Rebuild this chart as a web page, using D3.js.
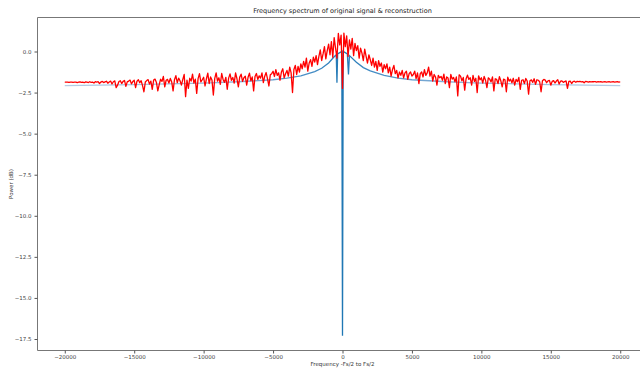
<!DOCTYPE html>
<html>
<head>
<meta charset="utf-8">
<script src="https://cdn.jsdelivr.net/npm/d3@7"></script>
<style>
  body { margin: 0; background: #fff; }
  text { font-family: "DejaVu Sans", sans-serif; }
</style>
</head>
<body>
<svg id="chart" width="640" height="368"></svg>
<script>
// reconstruction spectrum, one value every 100 Hz
const redStep = 100;
const redLeft = [
  -1.86,-1.87,-1.86,-1.88,-1.87,-1.86,-1.88,-1.87,-1.86,-1.89,
  -1.87,-1.85,-1.88,-1.86,-1.90,-1.85,-1.87,-1.89,-1.84,-1.88,
  -1.86,-1.92,-1.84,-1.87,-1.83,-1.95,-1.86,-1.82,-1.89,-1.85,
  -1.81,-1.93,-1.86,-1.80,-1.98,-1.84,-1.79,-2.20,-2.05,-1.83,
  -1.78,-1.95,-1.82,-1.76,-2.12,-1.85,-1.80,-1.74,-1.97,-1.83,
  -1.75,-2.20,-1.81,-1.72,-1.90,-1.78,-2.08,-2.45,-1.86,-1.77,
  -1.71,-1.98,-1.80,-2.30,-1.74,-1.68,-1.88,-2.40,-2.02,-1.69,
  -1.82,-1.52,-2.15,-1.75,-1.70,-1.92,-1.64,-1.85,-2.40,-1.72,
  -1.47,-1.90,-1.62,-1.78,-2.05,-1.70,-1.40,-2.75,-1.74,-2.25,
  -1.63,-1.80,-1.38,-1.92,-1.68,-2.55,-1.65,-1.35,-1.85,-1.72,
  -1.57,-2.10,-1.66,-1.32,-1.95,-1.55,-1.74,-2.65,-1.64,-1.30,
  -1.80,-1.60,-2.00,-1.34,-1.70,-1.88,-1.57,-2.30,-1.62,-1.36,
  -1.75,-1.58,-1.93,-1.30,-1.66,-2.15,-1.56,-1.38,-1.82,-1.60,
  -1.50,-2.05,-1.57,-1.32,-1.78,-1.55,-2.40,-1.52,-1.34,-1.70,
  -1.48,-1.62,-1.30,-1.90,-1.50,-1.28,-1.66,-2.10,-1.42,-1.35,
  -1.20,-1.52,-1.10,-1.45,-1.30,-1.75,-1.25,-1.05,-1.60,-1.35,
  -1.15,-1.50,-0.95,-1.30,-2.50,-1.10,-0.85,-1.40,-0.90,-1.25,
  -0.75,-1.05,-0.60,-0.95,-0.40,-1.20,-0.70,-0.50,-0.90,-0.35,
  -0.65,-0.25,-0.80,-0.30,0.10,-0.55,-0.15,0.30,-0.45,0.05,
  0.45,-0.20,0.60,-0.35,0.85,0.20,-0.40,1.10,0.40,1.00
];
const redCenter = -2.25;
const redRight = [
  1.12,0.30,0.95,-0.30,0.70,0.15,0.80,-0.25,0.50,0.05,
  0.35,-0.40,0.20,-0.10,-0.55,0.15,-0.30,-0.70,-0.20,-0.50,
  -0.85,-0.40,-0.95,-0.60,-1.15,-0.55,-0.90,-0.70,-1.25,-0.80,
  -1.05,-0.75,-1.30,-0.95,-1.50,-1.10,-0.85,-1.35,-1.15,-1.60,
  -1.25,-1.45,-1.15,-1.60,-1.30,-1.20,-1.70,-1.35,-1.25,-1.50,
  -1.40,-1.20,-1.65,-1.30,-1.95,-1.35,-1.25,-1.55,-1.10,-1.45,
  -1.30,-0.95,-1.50,-1.20,-1.80,-1.40,-1.55,-2.05,-1.45,-1.60,
  -1.52,-1.75,-1.38,-1.95,-1.55,-1.62,-2.20,-1.40,-1.68,-1.58,
  -1.85,-1.55,-2.70,-1.42,-1.50,-1.78,-1.58,-2.35,-1.66,-1.44,
  -1.70,-1.60,-2.05,-1.45,-1.82,-1.63,-2.50,-1.48,-1.72,-1.60,
  -1.92,-1.52,-1.75,-2.20,-1.60,-1.68,-1.85,-1.54,-2.40,-1.66,
  -1.70,-1.95,-1.53,-1.78,-2.15,-1.68,-1.72,-2.45,-1.56,-1.80,
  -1.69,-1.90,-1.63,-2.05,-1.70,-1.84,-1.58,-2.30,-1.75,-1.72,
  -1.95,-1.64,-1.80,-2.60,-1.78,-1.73,-1.88,-1.66,-2.00,-1.72,
  -1.75,-1.84,-2.45,-1.78,-1.70,-1.74,-1.90,-1.79,-1.76,-2.05,
  -1.82,-1.77,-1.92,-1.80,-1.72,-1.98,-1.81,-1.79,-1.88,-1.83,
  -1.79,-2.25,-1.82,-1.80,-1.95,-1.83,-1.81,-1.87,-1.82,-1.84,
  -1.82,-1.85,-1.83,-1.90,-1.82,-1.84,-1.86,-1.83,-1.85,-1.84,
  -1.84,-1.83,-1.86,-1.84,-1.85,-1.83,-1.86,-1.85,-1.84,-1.86,
  -1.85,-1.84,-1.86,-1.85,-1.84,-1.86,-1.85,-1.84,-1.86,-1.85
];
const redPower = redLeft.concat([redCenter], redRight);
const redFreq = d3.range(redPower.length).map(i => -20000 + i * redStep);

// original signal spectrum
const blueFreq = [-20000,-17500,-15000,-12500,-10000,-7500,-5000,-4000,-3000,-2000,-1500,-1000,-600,-450,-400,-350,-50,0,50,350,430,500,1000,1500,2000,3000,4000,5000,7500,10000,12500,15000,17500,20000];
const bluePower = [-2.08,-2.05,-2.02,-1.97,-1.92,-1.84,-1.72,-1.62,-1.48,-1.22,-1.02,-0.70,-0.32,-0.20,-1.90,-0.15,0.0,-17.3,0.0,-0.15,-1.40,-0.25,-0.65,-0.98,-1.18,-1.45,-1.62,-1.72,-1.84,-1.92,-1.97,-2.02,-2.05,-2.08];

const xTicks = [-20000,-15000,-10000,-5000,0,5000,10000,15000,20000];
const yTicks = [0,-2.5,-5,-7.5,-10,-12.5,-15,-17.5];

const svg = d3.select("#chart");
const plot = { left: 37.5, right: 648, top: 17.5, bottom: 350.5 };

const x = d3.scaleLinear().domain([-22000, 22000]).range([37, 648]);
const y = d3.scaleLinear().domain([-17.5, 0]).range([339, 51.5]);

// blue fades towards the edges
const grad = svg.append("defs").append("linearGradient")
    .attr("id", "blueFade")
    .attr("gradientUnits", "userSpaceOnUse")
    .attr("x1", x(-20000)).attr("x2", x(20000))
    .attr("y1", 0).attr("y2", 0);
grad.selectAll("stop")
    .data([[0, "#b4cde4"], [0.3, "#8fb5da"], [0.46, "#3d88c2"], [0.5, "#1f77b4"], [0.54, "#3d88c2"], [0.7, "#8fb5da"], [1, "#b4cde4"]])
    .join("stop")
    .attr("offset", d => d[0])
    .attr("stop-color", d => d[1]);

const line = d3.line()
    .x(d => x(d[0]))
    .y(d => y(d[1]));

svg.append("path")
    .datum(d3.zip(blueFreq, bluePower))
    .attr("fill", "none")
    .attr("stroke", "url(#blueFade)")
    .attr("stroke-width", 1.3)
    .attr("d", line);

svg.append("path")
    .datum(d3.zip(redFreq, redPower))
    .attr("fill", "none")
    .attr("stroke", "#ff0000")
    .attr("stroke-width", 1.3)
    .attr("stroke-linejoin", "round")
    .attr("d", line);

// spines
svg.append("path")
    .attr("fill", "none")
    .attr("stroke", "#777")
    .attr("stroke-width", 1)
    .attr("d", `M${plot.right},${plot.top}H${plot.left}V${plot.bottom}H${plot.right}`);

const xAxis = svg.append("g")
    .attr("transform", `translate(0,${plot.bottom})`)
    .call(d3.axisBottom(x).tickValues(xTicks).tickSize(3).tickFormat(d3.format("d")));
const yAxis = svg.append("g")
    .attr("transform", `translate(${plot.left},0)`)
    .call(d3.axisLeft(y).tickValues(yTicks).tickSize(3).tickFormat(d3.format(".1f")));

[xAxis, yAxis].forEach(g => {
  g.select(".domain").remove();
  g.selectAll("line").attr("stroke", "#555");
  g.selectAll("text")
    .attr("fill", "#444")
    .style("font-family", "'DejaVu Sans', sans-serif")
    .style("font-size", "5.5px");
});
xAxis.selectAll("text").attr("y", 4.5);

svg.append("text")
    .attr("x", x(0)).attr("y", 13)
    .attr("text-anchor", "middle")
    .attr("fill", "#222")
    .style("font-size", "6.5px")
    .text("Frequency spectrum of original signal & reconstruction");

svg.append("text")
    .attr("x", x(0)).attr("y", 365.5)
    .attr("text-anchor", "middle")
    .attr("fill", "#333")
    .style("font-size", "5.5px")
    .text("Frequency -Fs/2 to Fs/2");

svg.append("text")
    .attr("transform", `translate(13,${(plot.top + plot.bottom) / 2}) rotate(-90)`)
    .attr("text-anchor", "middle")
    .attr("fill", "#333")
    .style("font-size", "5.5px")
    .text("Power (dB)");
</script>
</body>
</html>
